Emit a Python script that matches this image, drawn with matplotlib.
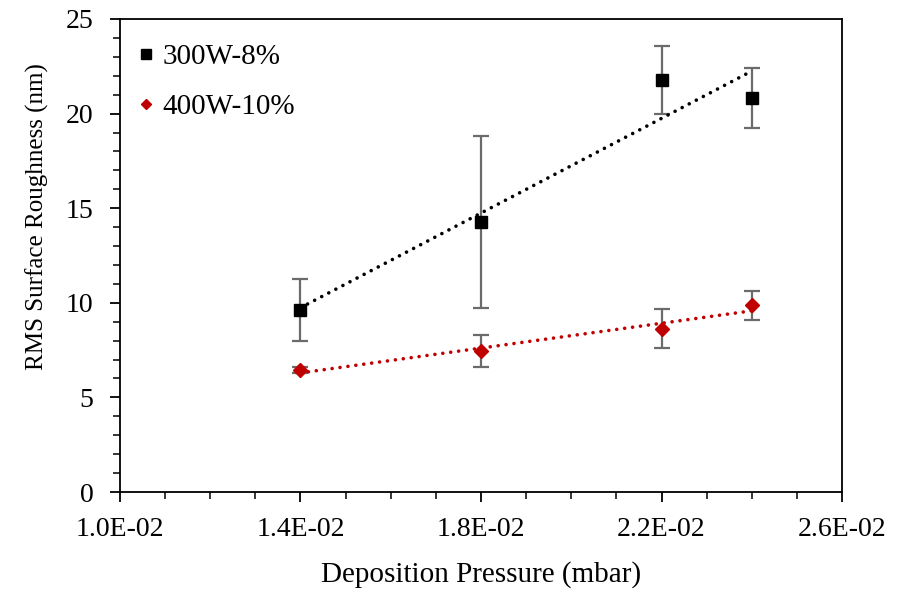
import numpy as np
import matplotlib
matplotlib.use("Agg")
import matplotlib.pyplot as plt
from matplotlib.ticker import FixedLocator, MultipleLocator, FuncFormatter
from matplotlib.lines import Line2D

plt.rcParams['font.family'] = ['Liberation Serif', 'DejaVu Serif']

# deposition pressure (mbar)
pressure = [0.014, 0.018, 0.022, 0.024]

# 300W-8% samples
rms_300 = [9.62, 14.27, 21.77, 20.82]
err_300 = [1.65, 4.55, 1.78, 1.6]

# 400W-10% samples
rms_400 = [6.45, 7.45, 8.62, 9.88]
err_400 = [0.17, 0.85, 1.03, 0.77]

labels = ['300W-8%', '400W-10%']
x_ticks = [0.010, 0.014, 0.018, 0.022, 0.026]

fig = plt.figure(figsize=(9, 5.9), dpi=100)
ax = fig.add_axes([0.1333, 0.1661, 0.8023, 0.8017])

x = np.array(pressure)
for y, e, col, mk, ms in [(rms_300, err_300, 'black', 's', 9),
                          (rms_400, err_400, '#C00000', 'D', 7)]:
    ax.errorbar(x, y, yerr=e, fmt='none', ecolor='#6b6b6b', elinewidth=1.6,
                capsize=6, capthick=1.6, zorder=2)
    # linear trendline
    k, b = np.polyfit(x, y, 1)
    xs = np.array([x.min(), x.max()])
    ax.plot(xs, k * xs + b, linestyle=(0, (0.01, 2.2)), color=col,
            linewidth=2.6, dash_capstyle='round', zorder=3)
    ax.plot(x, y, linestyle='none', marker=mk, markersize=ms, color=col,
            zorder=4)

handles = [Line2D([], [], linestyle='none', marker='s', markersize=7,
                  color='black'),
           Line2D([], [], linestyle='none', marker='D', markersize=5.5,
                  color='#C00000')]
ax.legend(handles, labels, loc='upper left', frameon=False, fontsize=21,
          labelspacing=0.82, handletextpad=0.05, handlelength=1.0,
          borderaxespad=0.2, bbox_to_anchor=(-0.008, 0.985))

ax.set_xlim(0.010, 0.026)
ax.set_ylim(0, 25)
ax.xaxis.set_major_locator(FixedLocator(x_ticks))
ax.xaxis.set_minor_locator(MultipleLocator(0.001))
ax.yaxis.set_major_locator(MultipleLocator(5))
ax.yaxis.set_minor_locator(MultipleLocator(1))
ax.xaxis.set_major_formatter(FuncFormatter(lambda v, p: f"{v:.1E}"))

ax.tick_params(which='major', direction='out', length=7, width=1.3,
               labelsize=20)
ax.tick_params(axis='x', which='major', pad=11)
ax.tick_params(axis='y', which='major', pad=12)
ax.tick_params(which='minor', direction='out', length=5, width=1.1)
for s in ax.spines.values():
    s.set_linewidth(1.3)

ax.set_xlabel('Deposition Pressure (mbar)', fontsize=21, va='center')
ax.set_ylabel('RMS Surface Roughness (nm)', fontsize=18, va='center')
ax.xaxis.set_label_coords(0.5, -0.175)
ax.yaxis.set_label_coords(-0.114, 0.583)

fig.savefig('out.png', dpi=100)
